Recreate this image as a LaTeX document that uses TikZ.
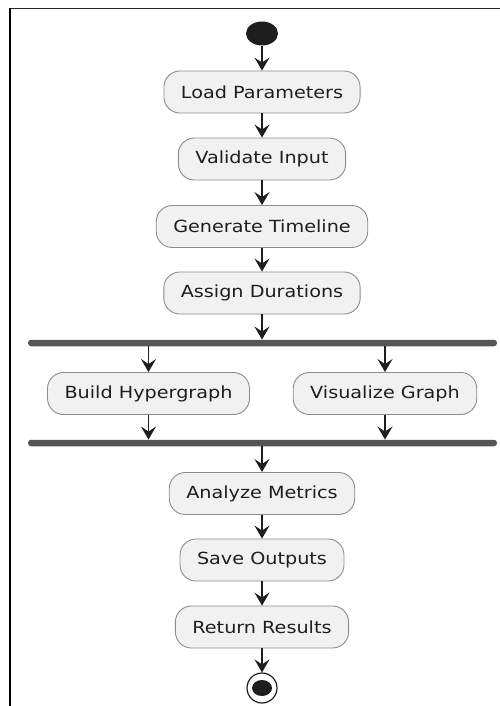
\documentclass[tikz,border=0pt]{standalone}
\usepackage{fontspec}
\setmainfont{DejaVu Sans}[FakeStretch=1.15]
\usetikzlibrary{arrows.meta,shapes.geometric}
\definecolor{boxfill}{HTML}{F1F1F1}
\definecolor{boxline}{HTML}{8C8C8C}
\definecolor{ink}{HTML}{1E1E1E}
\definecolor{barcol}{HTML}{555555}
\tikzset{
  act/.style={draw=boxline, line width=0.9pt, fill=boxfill, rounded corners=16pt,
    minimum height=42pt, inner xsep=17pt, text=ink,
    font=\fontsize{16.7pt}{18pt}\selectfont},
  bar/.style={fill=barcol, rounded corners=3pt, minimum width=469pt,
    minimum height=6.5pt, inner sep=0pt},
  flow/.style={draw=ink, line width=1.4pt,
    -{Stealth[length=13pt, width=15pt, inset=5pt]}},
}
\begin{document}
\begin{tikzpicture}[x=1pt,y=-1pt]
  \useasboundingbox (0,0) rectangle (500,706);
  % frame
  \draw[line width=1.8pt, draw=black!85] (10,8.5) -- (500,8.5);
  \draw[line width=1.8pt, draw=black] (10,8.5) -- (10,706);

  % start / stop
  \node[ellipse, fill=ink, minimum width=32pt, minimum height=24pt, inner sep=0pt] (start) at (262,33.5) {};
  \node[circle, draw=ink, line width=1.2pt, fill=white, minimum size=30pt, inner sep=0pt] (stop) at (262,688) {};
  \fill[ink] (stop.center) ellipse [x radius=10pt, y radius=8pt];

  % actions
  \node[act] (load)     at (262,92)    {Load Parameters};
  \node[act] (validate) at (262,159)   {Validate Input};
  \node[act] (gen)      at (262,226.5) {Generate Timeline};
  \node[act] (assign)   at (262,293)   {Assign Durations};
  \node[bar] (fork)     at (262.5,343) {};
  \node[act] (build)    at (148.5,393.5) {Build Hypergraph};
  \node[act] (vis)      at (385,393.5) {Visualize Graph};
  \node[bar] (join)     at (262.5,443) {};
  \node[act] (analyze)  at (262,493.5) {Analyze Metrics};
  \node[act] (save)     at (262,560)   {Save Outputs};
  \node[act] (ret)      at (262,627)   {Return Results};

  % connectors
  \draw[flow] (start) -- (load);
  \draw[flow] (load) -- (validate);
  \draw[flow] (validate) -- (gen);
  \draw[flow] (gen) -- (assign);
  \draw[flow] (assign.south) -- (assign.south |- fork.north);
  \draw[flow] (fork.south -| build) -- (build);
  \draw[flow] (fork.south -| vis) -- (vis);
  \draw[flow] (build) -- (build |- join.north);
  \draw[flow] (vis) -- (vis |- join.north);
  \draw[flow] (join.south -| analyze) -- (analyze);
  \draw[flow] (analyze) -- (save);
  \draw[flow] (save) -- (ret);
  \draw[flow] (ret) -- (stop);
\end{tikzpicture}
\end{document}
